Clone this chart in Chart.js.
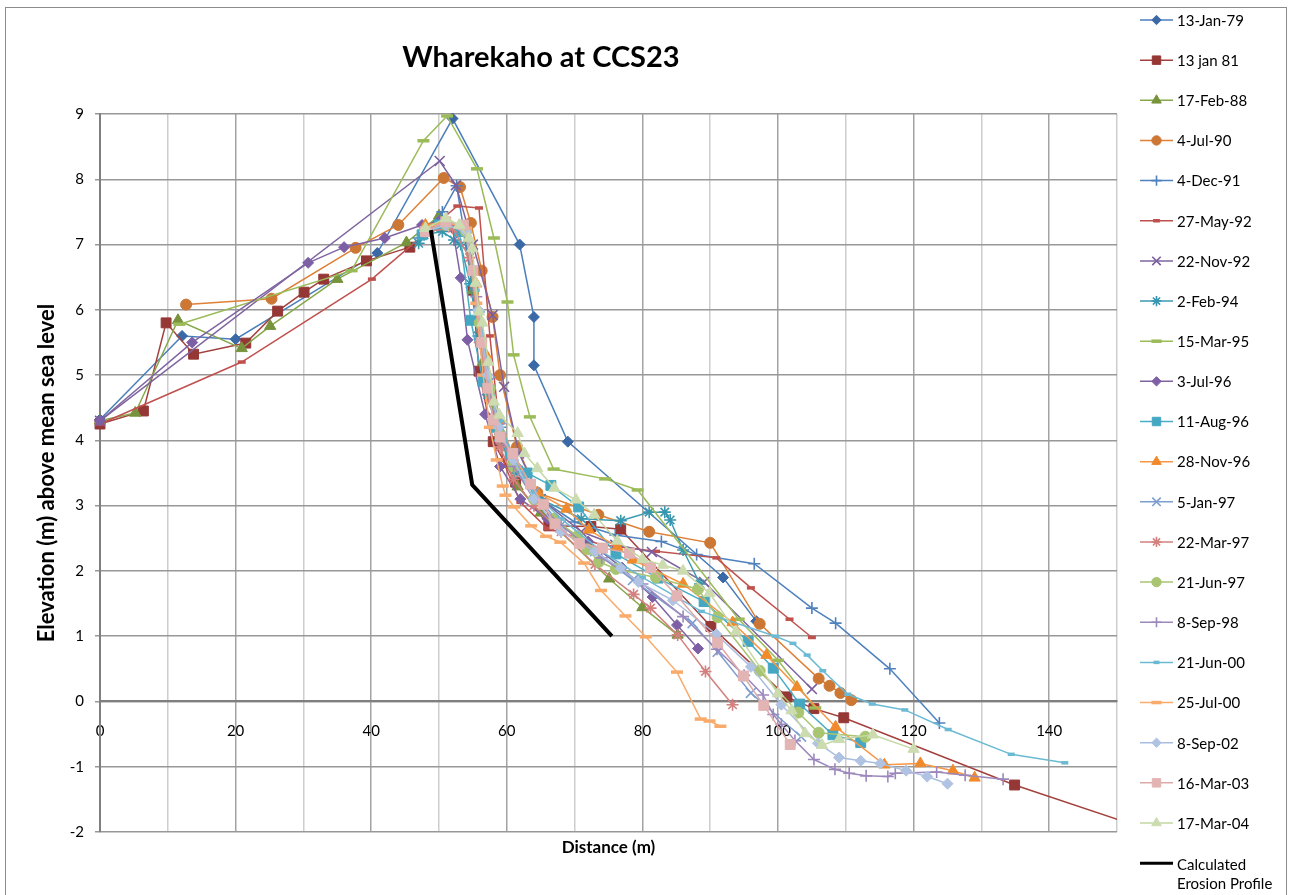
<!DOCTYPE html>
<html>
<head>
<meta charset="utf-8">
<title>Wharekaho at CCS23</title>
<script src="https://cdn.jsdelivr.net/npm/chart.js@4.4.1/dist/chart.umd.min.js"></script>
<style>
  html, body { margin: 0; padding: 0; background: #fff; }
  canvas { display: block; }
</style>
</head>
<body>
<canvas id="chart" width="1290" height="895"></canvas>
<script>
const chartTitle = "Wharekaho at CCS23";
const xTitle = "Distance (m)";
const yTitle = "Elevation (m) above mean sea level";

const seriesNames = [
  "13-Jan-79", "13 jan 81", "17-Feb-88", "4-Jul-90", "4-Dec-91", "27-May-92",
  "22-Nov-92", "2-Feb-94", "15-Mar-95", "3-Jul-96", "11-Aug-96", "28-Nov-96",
  "5-Jan-97", "22-Mar-97", "21-Jun-97", "8-Sep-98", "21-Jun-00", "25-Jul-00",
  "8-Sep-02", "16-Mar-03", "17-Mar-04", ["Calculated", "Erosion Profile"]
];

// survey profiles: [distance (m), elevation (m)]
const jan79 = [[0,4.32],[12.1,5.6],[20.0,5.55],[40.9,6.87],[52.0,8.93],[61.9,7.0],[64.0,5.89],[64.0,5.15],[69.0,3.98],[91.9,1.9],[96.8,1.23]];
const jan81 = [[0,4.25],[6.4,4.45],[9.75,5.8],[13.8,5.32],[21.5,5.49],[26.2,5.98],[30.1,6.27],[33.0,6.47],[39.3,6.75],[45.7,6.96],[50.5,7.3],[53.8,7.2],[55.0,6.3],[55.9,5.06],[58.0,3.98],[61.3,3.36],[66.2,2.69],[72.4,2.68],[76.8,2.64],[90.1,1.15],[101.3,0.07],[105.3,-0.11],[109.7,-0.25],[134.9,-1.28],[160,-2.15]];
const feb88 = [[0,4.3],[5.2,4.42],[11.5,5.84],[20.9,5.41],[25.1,5.75],[35.0,6.47],[45.2,7.03],[50.0,7.44],[53.5,7.25],[55.0,6.3],[56.5,5.2],[58.5,4.2],[61.6,3.29],[65.0,2.89],[75.1,1.88],[80.0,1.44],[85.2,1.02]];
const jul90 = [[12.7,6.08],[25.3,6.17],[37.7,6.95],[44.0,7.3],[50.7,8.02],[53.1,7.88],[54.7,7.33],[56.3,6.6],[57.9,5.89],[59.0,5.0],[61.5,3.9],[64.5,3.2],[73.5,2.86],[81.0,2.6],[90.0,2.43],[97.3,1.19],[106.0,0.35],[107.6,0.24],[109.2,0.13],[110.8,0.02]];
const dec91 = [[47.0,7.1],[50.5,7.5],[52.6,7.9],[54.0,7.0],[55.5,6.0],[57.0,5.0],[59.0,4.2],[61.5,3.6],[65.0,3.1],[70.0,2.75],[76.0,2.55],[82.8,2.45],[88.0,2.25],[96.5,2.11],[105.0,1.43],[108.5,1.2],[116.5,0.5],[123.8,-0.33]];
const may92 = [[0,4.25],[20.9,5.2],[40.1,6.47],[52.7,7.59],[55.9,7.56],[57.5,5.6],[59.4,3.7],[62.0,3.05],[66.0,2.65],[74.0,2.4],[82.0,2.3],[90.9,2.2],[96.0,1.74],[101.7,1.26],[105.0,0.98]];
const nov92 = [[0,4.3],[50.1,8.28],[52.5,7.91],[55.0,7.0],[57.9,5.92],[59.6,4.82],[61.8,3.8],[65.0,3.1],[71.0,2.6],[76.0,2.4],[81.4,2.29],[89.1,1.83],[105.0,0.19]];
const feb94 = [[47.0,7.02],[47.8,7.15],[50.5,7.2],[52.2,7.07],[53.2,7.0],[54.6,6.4],[55.8,5.6],[57.2,4.7],[59.0,4.0],[61.5,3.5],[65.0,3.1],[71.0,2.8],[76.8,2.77],[81.0,2.9],[83.3,2.9],[84.1,2.78],[86.0,2.32],[88.5,1.8]];
const mar95 = [[11.7,5.78],[37.1,6.6],[47.7,8.59],[51.2,8.97],[55.6,8.16],[58.1,7.1],[60.1,6.12],[61.0,5.31],[63.4,4.36],[66.9,3.56],[74.5,3.41],[79.3,3.24],[94.2,1.26],[100.0,0.63],[105.5,-0.1]];
const jul96 = [[0,4.3],[13.6,5.5],[30.7,6.72],[36.0,6.96],[42.0,7.1],[47.5,7.3],[50.0,7.35],[52.0,7.25],[53.2,6.49],[54.2,5.54],[56.8,4.4],[59.0,3.6],[62.0,3.1],[66.0,2.8],[72.0,2.45],[77.0,2.05],[81.5,1.6],[85.1,1.17],[88.2,0.81]];
const aug96 = [[47.5,7.15],[50.0,7.3],[53.0,7.2],[54.7,5.84],[56.5,4.9],[58.5,4.2],[60.5,3.8],[63.0,3.5],[66.5,3.31],[70.6,2.98],[76.1,2.26],[82.3,1.89],[89.1,1.53],[95.6,0.92],[99.3,0.51],[103.2,-0.04],[108.1,-0.51],[112.2,-0.63]];
const nov96 = [[48.0,7.3],[51.0,7.35],[54.0,7.25],[55.5,6.4],[57.0,5.3],[59.0,4.3],[61.5,3.6],[64.5,3.2],[68.8,2.95],[72.1,2.63],[76.3,2.37],[78.6,2.17],[86.0,1.8],[93.3,1.21],[98.3,0.71],[102.8,0.22],[108.5,-0.39],[115.7,-0.97],[121.0,-0.95],[125.8,-1.06],[129.0,-1.17]];
const jan97 = [[48.0,7.2],[51.0,7.3],[54.0,7.2],[56.0,5.9],[57.5,4.9],[59.0,4.2],[61.0,3.7],[64.0,3.2],[68.0,2.7],[73.0,2.3],[78.6,1.86],[87.4,1.2],[91.1,0.76],[96.0,0.13],[103.4,-0.54]];
const mar97 = [[48.0,7.2],[52.0,7.25],[54.5,6.8],[56.0,5.5],[57.5,4.6],[59.0,3.9],[61.0,3.4],[64.0,3.0],[68.0,2.6],[73.0,2.1],[78.7,1.64],[81.2,1.43],[85.2,1.02],[89.3,0.46],[93.3,-0.05]];
const jun97 = [[48.0,7.2],[51.0,7.3],[54.0,7.2],[56.0,5.8],[57.5,4.8],[59.0,4.1],[61.0,3.6],[64.0,3.1],[67.0,2.8],[70.4,2.53],[71.9,2.33],[73.6,2.14],[76.1,2.03],[82.0,1.9],[88.2,1.72],[91.1,1.29],[97.3,0.47],[103.0,-0.17],[106.0,-0.48],[112.9,-0.54]];
const sep98 = [[48.0,7.2],[51.0,7.3],[54.0,7.25],[55.5,6.2],[57.0,5.0],[59.0,4.1],[61.0,3.6],[64.0,3.1],[68.0,2.7],[74.0,2.2],[80.0,1.8],[86.0,1.3],[91.0,0.8],[95.0,0.4],[97.8,0.1],[99.3,-0.2],[100.5,-0.35],[102.5,-0.6],[105.3,-0.89],[108.4,-1.04],[110.5,-1.1],[113.0,-1.14],[116.2,-1.15],[117.3,-1.1],[123.4,-1.08],[127.6,-1.13],[133.2,-1.19]];
const jun00 = [[48.0,7.2],[51.0,7.3],[54.0,7.2],[55.5,6.3],[57.0,5.2],[59.0,4.3],[61.0,3.7],[64.0,3.2],[68.0,2.8],[74.0,2.3],[80.0,1.9],[88.7,1.38],[99.6,1.0],[102.2,0.89],[104.3,0.71],[106.6,0.47],[110.3,0.11],[113.9,-0.04],[118.7,-0.13],[125.1,-0.43],[134.4,-0.81],[142.3,-0.94]];
const jul00 = [[48.0,7.25],[51.0,7.35],[54.0,7.25],[55.5,6.1],[56.5,5.0],[57.5,4.2],[58.5,3.7],[59.4,3.3],[59.8,3.16],[61.1,2.98],[63.6,2.69],[65.8,2.53],[67.9,2.44],[71.4,2.12],[73.9,1.7],[77.5,1.31],[80.5,0.99],[85.1,0.45],[88.6,-0.27],[89.9,-0.3],[91.5,-0.38]];
const sep02 = [[48.0,7.2],[51.0,7.3],[54.0,7.2],[55.8,6.0],[57.2,5.0],[58.8,4.2],[61.0,3.7],[64.0,3.1],[68.0,2.6],[73.0,2.3],[76.8,2.04],[79.4,1.83],[84.5,1.55],[90.9,1.03],[96.0,0.53],[100.5,-0.05],[105.9,-0.64],[109.0,-0.86],[112.2,-0.91],[115.1,-0.95],[118.9,-1.06],[122.0,-1.15],[125.0,-1.26]];
const mar03 = [[48.0,7.2],[51.0,7.35],[53.6,7.3],[55.0,6.6],[56.3,5.5],[57.2,4.8],[58.0,4.31],[59.0,4.05],[60.9,3.8],[63.5,3.33],[65.4,3.02],[67.1,2.72],[70.7,2.42],[74.1,2.35],[78.1,2.27],[81.2,2.05],[85.1,1.62],[91.1,0.9],[94.9,0.39],[97.9,-0.06],[101.8,-0.66]];
const mar04 = [[48.0,7.25],[51.0,7.4],[53.0,7.3],[54.4,7.1],[54.9,6.94],[55.4,6.41],[55.9,5.97],[56.4,5.8],[57.3,5.2],[58.1,4.59],[58.9,4.39],[61.6,4.11],[62.6,3.8],[64.5,3.57],[67.0,3.27],[70.2,3.09],[72.9,2.86],[76.3,2.46],[80.0,2.18],[83.0,2.09],[86.0,2.0],[89.9,1.66],[93.8,1.07],[100.0,0.12],[102.0,-0.14],[104.0,-0.49],[106.5,-0.67],[109.0,-0.58],[114.0,-0.51],[120.0,-0.73]];
const erosion = [[48.8,7.22],[54.9,3.32],[75.5,1.0]];

const surveys = [jan79, jan81, feb88, jul90, dec91, may92, nov92, feb94, mar95, jul96, aug96,
  nov96, jan97, mar97, jun97, sep98, jun00, jul00, sep02, mar03, mar04, erosion];

const lineColors = ["#4A7EBB", "#A3403D", "#86A84A", "#DE8036", "#4F81BD", "#C0504D",
  "#7E649F", "#3C9AB2", "#9BBB59", "#8064A2", "#4BACC6", "#F79646",
  "#7C9FD0", "#D3807E", "#AAC572", "#9C88BC", "#6BBAD3", "#F9AB6B",
  "#A9BEDF", "#DDA9A8", "#C5D7A2", "#000000"];
const markerColors = ["#3A69A6", "#953735", "#77933C", "#CD7735", "#4F81BD", "#C0504D",
  "#7B5E9E", "#3795AE", "#9BBB59", "#7D5FA5", "#45A7C2", "#F08A2C",
  "#7C9FD0", "#D3807E", "#AAC572", "#9C88BC", "#6BBAD3", "#F9AB6B",
  "#B0C3E2", "#E2B4B3", "#CCDCB0", "#000000"];
const markerStyles = ["rectRot", "rect", "triangle", "circle", "cross", "line",
  "crossRot", "star", "line", "rectRot", "rect", "triangle",
  "crossRot", "star", "circle", "cross", "line", "line",
  "rectRot", "rect", "triangle", false];
const markerSizes = [5.5, 7, 6.5, 5.5, 6, 4, 7, 6, 6, 5.5, 7, 6.5, 7, 6, 5.5, 6, 3.5, 6, 5.5, 7, 6.5, 0];

function markerBorder(style) {
  if (style === "line") return 3.5;
  if (style === "cross" || style === "crossRot" || style === "star") return 1.6;
  return 1;
}

const datasets = surveys.map((pts, i) => ({
  label: Array.isArray(seriesNames[i]) ? seriesNames[i].join(" ") : seriesNames[i],
  data: pts.map(p => ({ x: p[0], y: p[1] })),
  borderColor: lineColors[i],
  borderWidth: i === surveys.length - 1 ? 4 : 1.5,
  pointStyle: markerStyles[i],
  pointRadius: markerSizes[i],
  pointBackgroundColor: markerColors[i],
  pointBorderColor: markerColors[i],
  pointBorderWidth: markerBorder(markerStyles[i]),
  order: surveys.length - i,
  clip: { left: 10, top: 10, right: 0, bottom: 10 }
}));

const frame = {
  id: "frame",
  beforeDraw(chart) {
    const ctx = chart.ctx;
    ctx.save();
    ctx.fillStyle = "#fff";
    ctx.fillRect(0, 0, chart.width, chart.height);
    ctx.strokeStyle = "#8c8c8c";
    ctx.lineWidth = 1;
    ctx.strokeRect(5.5, 7.5, 1281, 900);
    ctx.restore();
  },
  afterDraw(chart) {
    const ctx = chart.ctx;
    ctx.save();
    ctx.fillStyle = "#000";
    ctx.font = "bold 29px Lato";
    ctx.textAlign = "center";
    ctx.textBaseline = "middle";
    ctx.fillText(chartTitle, 541, 58);

    // legend: line sample with marker, then the series name
    ctx.font = "15px Lato";
    ctx.textAlign = "left";
    chart.data.datasets.forEach((ds, i) => {
      const y = 20 + i * 40.15;
      ctx.strokeStyle = ds.borderColor;
      ctx.lineWidth = i === surveys.length - 1 ? 3 : 1.5;
      ctx.beginPath();
      ctx.moveTo(1140, y);
      ctx.lineTo(1173, y);
      ctx.stroke();
      if (ds.pointStyle) {
        ctx.fillStyle = ds.pointBackgroundColor;
        ctx.strokeStyle = ds.pointBorderColor;
        ctx.lineWidth = ds.pointBorderWidth;
        Chart.helpers.drawPoint(ctx, {
          pointStyle: ds.pointStyle, rotation: 0,
          radius: ds.pointRadius * 0.85, borderWidth: ds.pointBorderWidth
        }, 1156.5, y);
      }
      ctx.fillStyle = "#000";
      const name = seriesNames[i];
      if (Array.isArray(name)) {
        ctx.fillText(name[0], 1177, y + 2);
        ctx.fillText(name[1], 1177, y + 21);
      } else {
        ctx.fillText(name, 1177, y + 1);
      }
    });
    ctx.restore();
  }
};

Chart.defaults.font.family = "Lato, sans-serif";
Chart.defaults.color = "#000";

new Chart(document.getElementById("chart").getContext("2d"), {
  type: "line",
  data: { datasets: datasets },
  options: {
    responsive: false,
    animation: false,
    events: [],
    layout: { padding: { left: 0, right: 173, top: 114, bottom: 0 } },
    plugins: {
      legend: { display: false },
      title: { display: false },
      tooltip: { enabled: false }
    },
    scales: {
      x: {
        type: "linear",
        position: { y: 0 },
        min: 0,
        max: 150,
        ticks: {
          stepSize: 10,
          autoSkip: false,
          maxRotation: 0,
          padding: 21,
          font: { size: 15 },
          callback: v => (v % 20 === 0 && v < 150 ? v : "")
        },
        grid: {
          drawTicks: false,
          lineWidth: 1.5,
          color: c => (c.tick && c.tick.value % 20 === 0 ? "#a3a3a3" : "#cdcdcd")
        },
        border: { color: "#7f7f7f", width: 2 }
      },
      x2: {
        type: "linear",
        position: "bottom",
        min: 0,
        max: 150,
        ticks: { display: false },
        grid: { display: false },
        border: { display: false },
        title: {
          display: true,
          text: xTitle,
          font: { size: 17, weight: "bold" },
          padding: { top: 6, bottom: 37 }
        },
        afterFit: s => { s.height = 63; }
      },
      y: {
        type: "linear",
        min: -2,
        max: 9,
        ticks: { stepSize: 1, padding: 11, font: { size: 15 } },
        grid: { color: "#989898", lineWidth: 1.5, tickLength: 5 },
        border: { color: "#7f7f7f", width: 2 },
        title: {
          display: true,
          text: yTitle,
          font: { size: 22, weight: "bold" },
          padding: { top: 34, bottom: 0 }
        },
        afterFit: s => { s.width = 100; }
      }
    }
  },
  plugins: [frame]
});
</script>
</body>
</html>
